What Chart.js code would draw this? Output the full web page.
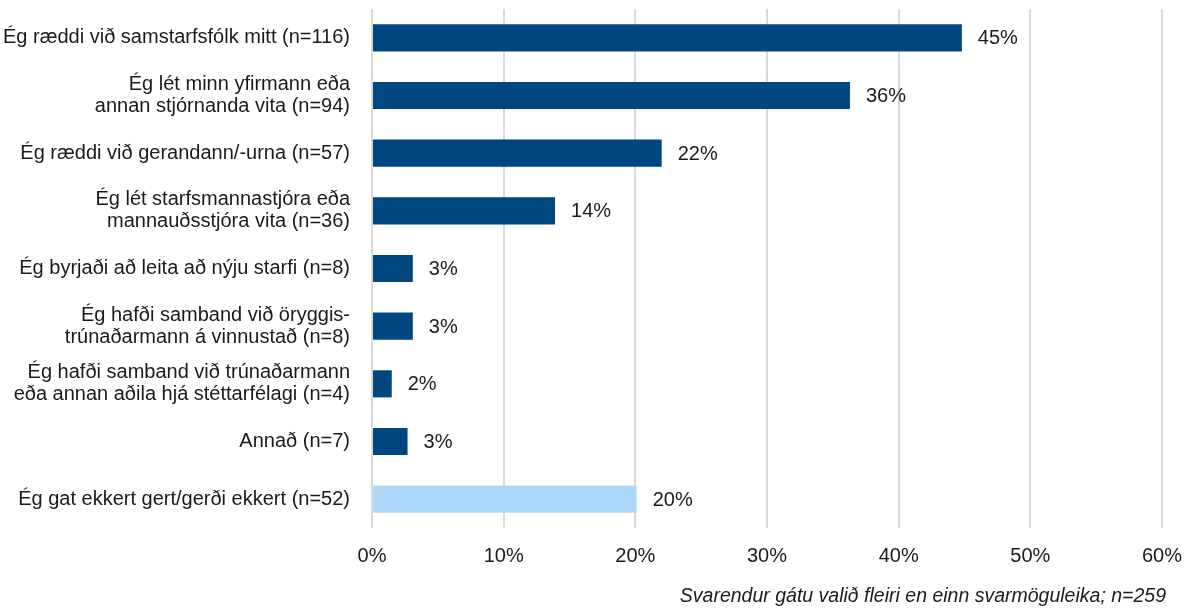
<!DOCTYPE html>
<html>
<head>
<meta charset="utf-8">
<script src="https://cdn.jsdelivr.net/npm/chart.js@4"></script>
<style>
  html, body { margin: 0; padding: 0; background: #ffffff; }
  #wrap { width: 1191px; height: 610px; }
</style>
</head>
<body>
<div id="wrap"><canvas id="chart"></canvas></div>
<script>
// Svör: hvað gerðir þú? (hlutfall svarenda, %)
const categories = [
  "Ég ræddi við samstarfsfólk mitt (n=116)",
  ["Ég lét minn yfirmann eða", "annan stjórnanda vita (n=94)"],
  "Ég ræddi við gerandann/-urna (n=57)",
  ["Ég lét starfsmannastjóra eða", "mannauðsstjóra vita (n=36)"],
  "Ég byrjaði að leita að nýju starfi (n=8)",
  ["Ég hafði samband við öryggis-", "trúnaðarmann á vinnustað (n=8)"],
  ["Ég hafði samband við trúnaðarmann", "eða annan aðila hjá stéttarfélagi (n=4)"],
  "Annað (n=7)",
  "Ég gat ekkert gert/gerði ekkert (n=52)"
]
const values = [44.8, 36.3, 22.0, 13.9, 3.1, 3.1, 1.5, 2.7, 20.1]
const barColors = ["#00467f", "#00467f", "#00467f", "#00467f", "#00467f", "#00467f", "#00467f", "#00467f", "#add8fa"]
const xTicks = [0, 10, 20, 30, 40, 50, 60]
const footnote = "Svarendur gátu valið fleiri en einn svarmöguleika; n=259"

const FONT = "'Liberation Sans', Arial, sans-serif"
const TEXT = "#1a1a1a"

// value labels to the right of each bar
const barValueLabels = {
  id: "barValueLabels",
  afterDatasetsDraw(chart) {
    const ctx = chart.ctx
    const meta = chart.getDatasetMeta(0)
    ctx.save()
    ctx.font = "20px " + FONT
    ctx.fillStyle = TEXT
    ctx.textAlign = "left"
    ctx.textBaseline = "middle"
    meta.data.forEach((bar, i) => {
      ctx.fillText(Math.round(values[i]) + "%", bar.x + 16, bar.y + 1)
    })
    ctx.restore()
  }
}

// italic note in the bottom right corner
const footnoteText = {
  id: "footnoteText",
  afterDraw(chart) {
    const ctx = chart.ctx
    ctx.save()
    ctx.font = "italic 19.5px " + FONT
    ctx.fillStyle = TEXT
    ctx.textAlign = "right"
    ctx.textBaseline = "middle"
    ctx.fillText(footnote, chart.width - 25, chart.height - 13)
    ctx.restore()
  }
}

new Chart(document.getElementById("chart"), {
  type: "bar",
  data: {
    labels: categories,
    datasets: [{
      data: values,
      backgroundColor: barColors,
      borderWidth: 0,
      categoryPercentage: 1,
      barPercentage: 0.47
    }]
  },
  options: {
    indexAxis: "y",
    responsive: true,
    maintainAspectRatio: false,
    animation: false,
    layout: { padding: { left: 0, right: 29, top: 9, bottom: 26 } },
    plugins: {
      legend: { display: false },
      tooltip: { enabled: false }
    },
    scales: {
      x: {
        min: 0,
        max: 60,
        afterBuildTicks: (axis) => { axis.ticks = xTicks.map(v => ({ value: v })) },
        afterFit: (axis) => { axis.height = 56; axis.paddingLeft = 0; axis.paddingRight = 0 },
        grid: { color: "#d9d9d9", lineWidth: 2, drawTicks: false },
        border: { display: false },
        ticks: {
          color: TEXT,
          padding: 16,
          font: { family: FONT, size: 20 },
          callback: (v) => v + "%"
        }
      },
      y: {
        afterFit: (axis) => { axis.width = 372; axis.paddingTop = 0; axis.paddingBottom = 0 },
        grid: { display: false, drawTicks: false },
        border: { display: false },
        ticks: {
          color: TEXT,
          padding: 22,
          font: { family: FONT, size: 20, lineHeight: 1.1 }
        }
      }
    }
  },
  plugins: [barValueLabels, footnoteText]
})
</script>
</body>
</html>
